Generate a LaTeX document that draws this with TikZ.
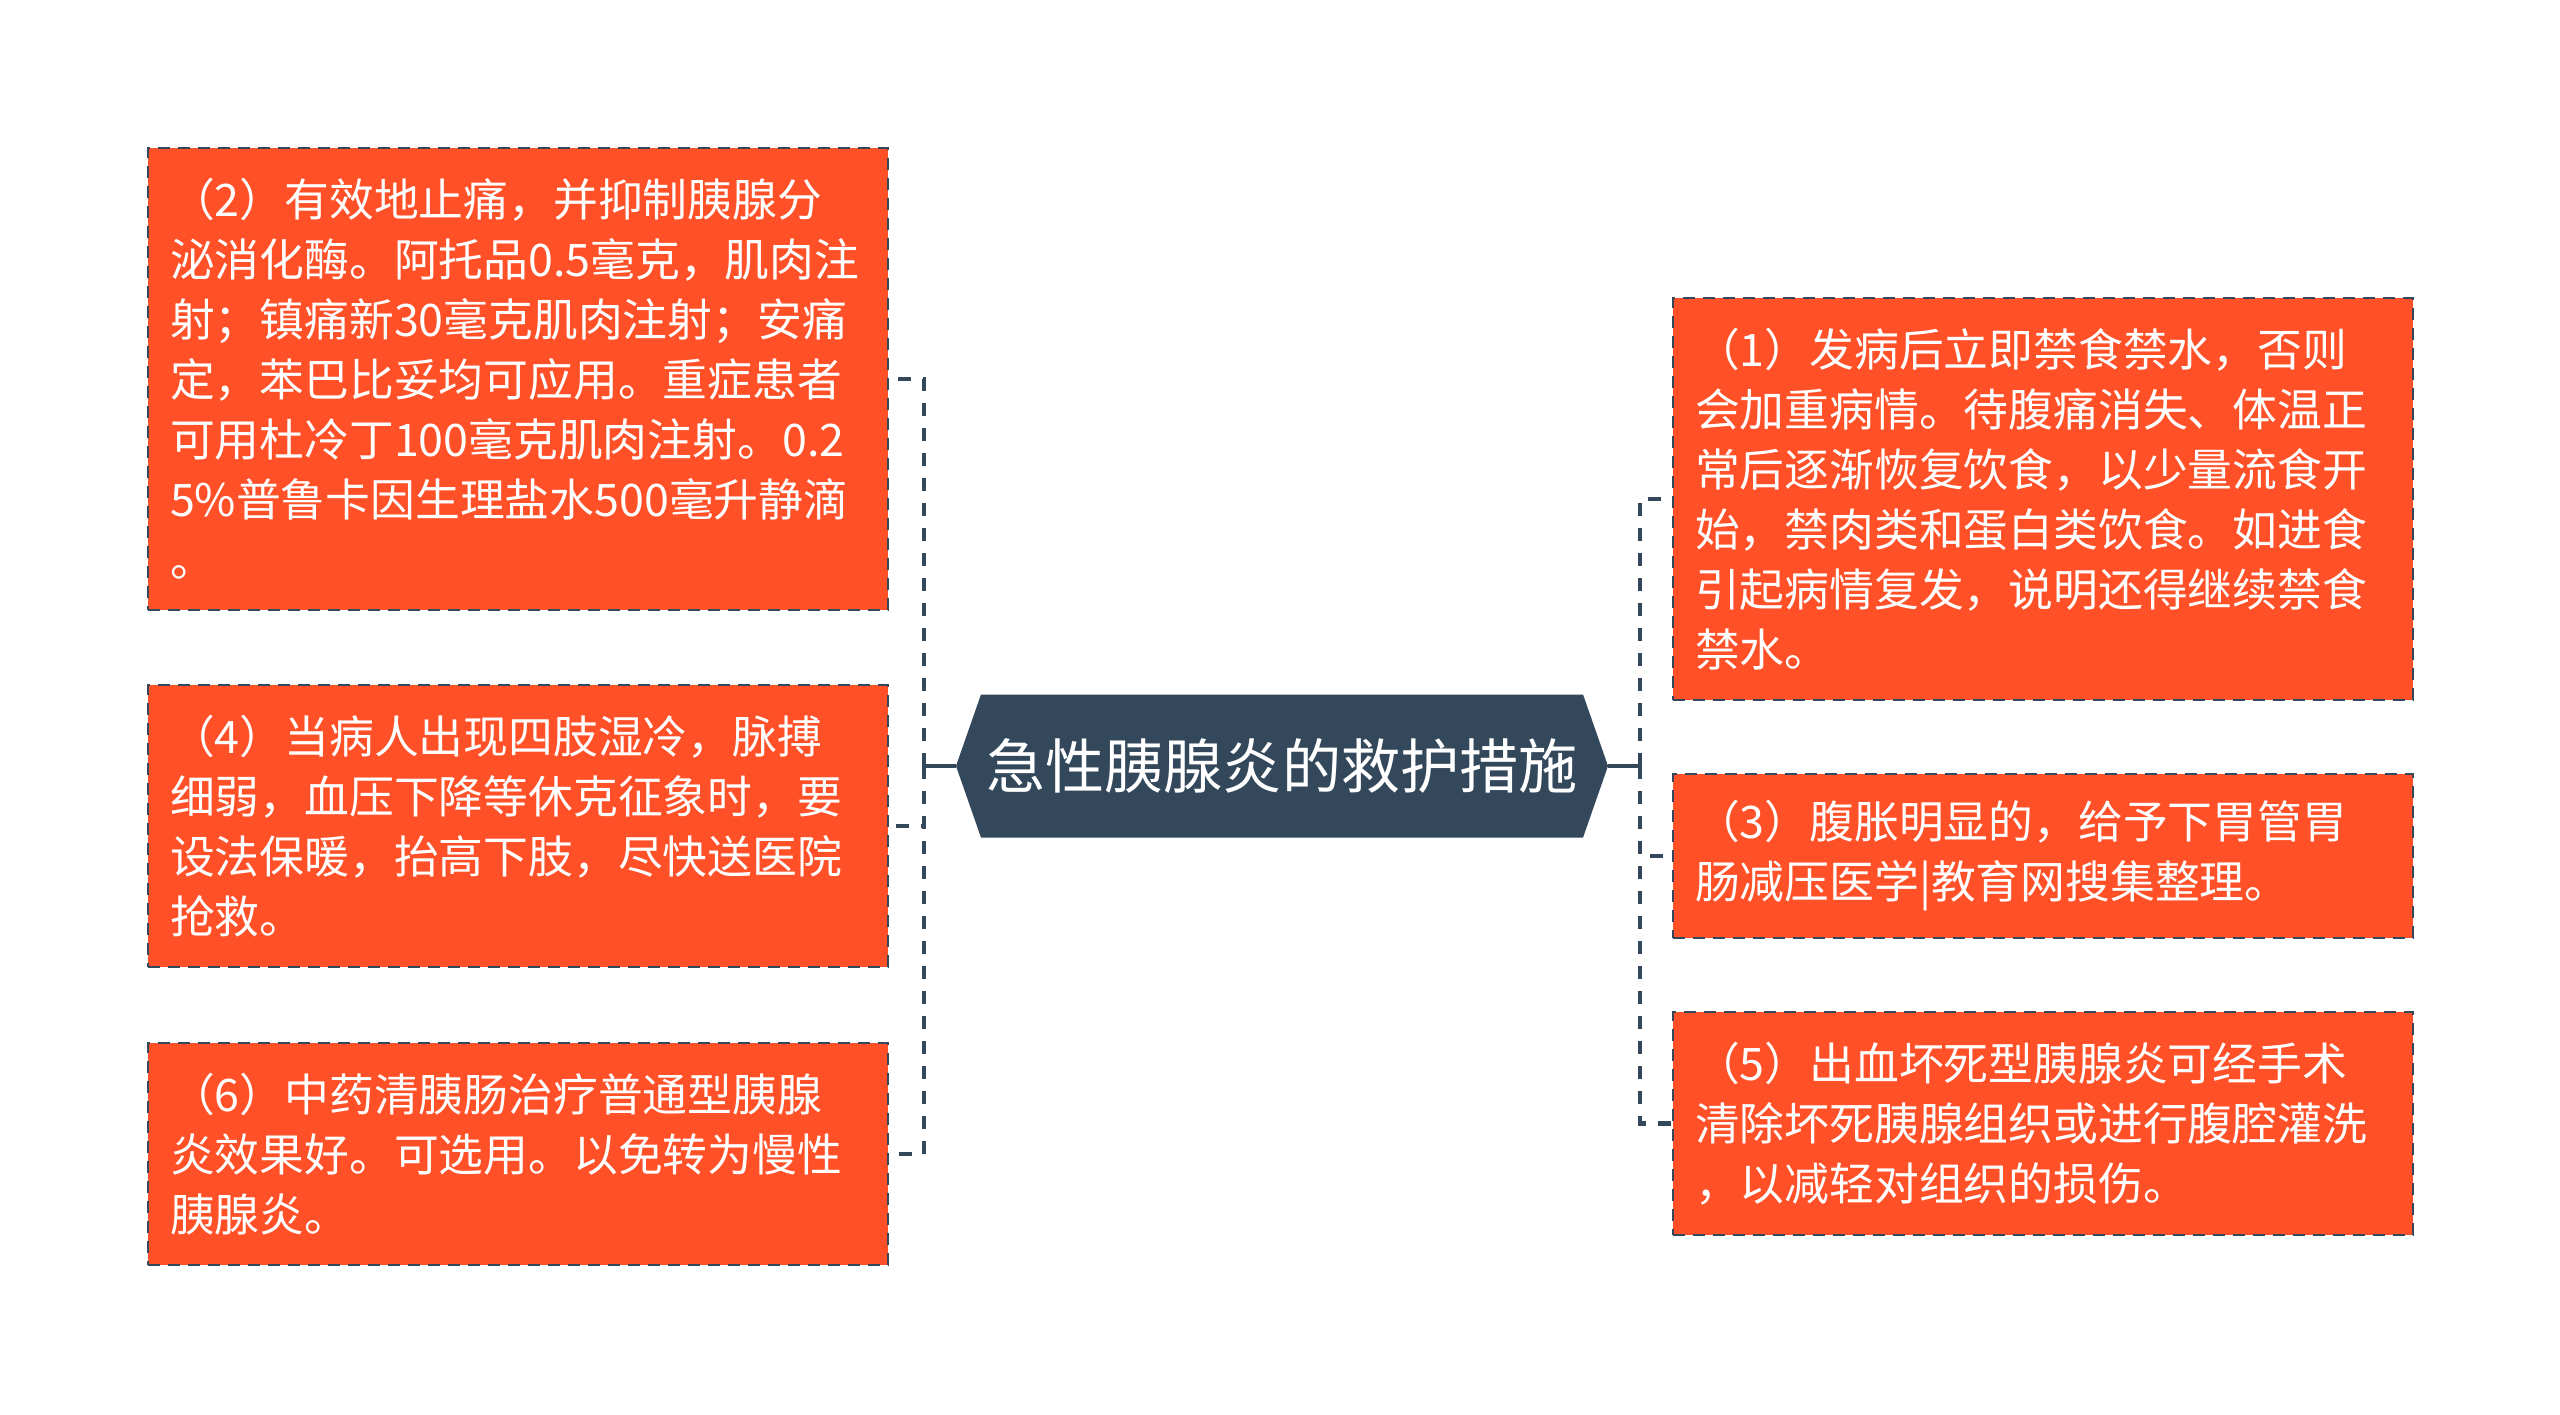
\documentclass[tikz,border=0pt]{standalone}
\usepackage{fontspec}
\setmainfont{Noto Sans CJK SC}
\usepackage{tikz}
\usepackage{xcolor}
\usetikzlibrary{shapes,shapes.symbols,positioning}
\definecolor{tomato}{RGB}{255, 80, 40}
\definecolor{slate}{RGB}{52, 72, 92}
\tikzstyle{link} = [
    line width=2.4pt,
    draw=slate,
    dash pattern=on 6.5pt off 6pt
]
\tikzstyle{stem} = [
    line width=2.4pt,
    draw=slate
]
\tikzstyle{card} = [
    rectangle,
    draw=slate,
    line width=1.2pt,
    dash pattern=on 6pt off 4pt,
    fill=tomato,
    text=white,
    align=left,
    text width=348pt,
    inner xsep=11pt,
    inner ysep=0pt,
    font=\fontsize{22.4}{30}\selectfont
]
\tikzstyle{hub} = [
    signal,
    signal to=west and east,
    signal pointer angle=141.5,
    fill=slate,
    text=white,
    minimum width=326pt,
    minimum height=71.5pt,
    inner sep=0pt,
    font=\fontsize{29.6}{36}\selectfont
]

\begin{document}
\begin{tikzpicture}[x=0.5pt, y=-0.5pt]
    \fill[white] (0,0) rectangle (2560,1414);
    \useasboundingbox (0,0) rectangle (2560,1414);

    \node[hub] (hub) at (1282,766) {急性胰腺炎的救护措施};

    \node[card, minimum height=231pt] (b2) at (518,379) {（2）有效地止痛，并抑制胰腺分\\泌消化酶。阿托品0.5毫克，肌肉注\\射；镇痛新30毫克肌肉注射；安痛\\定，苯巴比妥均可应用。重症患者\\可用杜冷丁100毫克肌肉注射。0.2\\5\%普鲁卡因生理盐水500毫升静滴\\。};
    \node[card, minimum height=141pt] (b4) at (518,826) {（4）当病人出现四肢湿冷，脉搏\\细弱，血压下降等休克征象时，要\\设法保暖，抬高下肢，尽快送医院\\抢救。};
    \node[card, minimum height=111pt] (b6) at (518,1154) {（6）中药清胰肠治疗普通型胰腺\\炎效果好。可选用。以免转为慢性\\胰腺炎。};

    \node[card, minimum height=201pt] (b1) at (2043,499) {（1）发病后立即禁食禁水，否则\\会加重病情。待腹痛消失、体温正\\常后逐渐恢复饮食，以少量流食开\\始，禁肉类和蛋白类饮食。如进食\\引起病情复发，说明还得继续禁食\\禁水。};
    \node[card, minimum height=82pt] (b3) at (2043,856) {（3）腹胀明显的，给予下胃管胃\\肠减压医学|教育网搜集整理。};
    \node[card, minimum height=111.5pt] (b5) at (2043,1123.5) {（5）出血坏死型胰腺炎可经手术\\清除坏死胰腺组织或进行腹腔灌洗\\，以减轻对组织的损伤。};

    \coordinate (lj) at (924,766);
    \coordinate (rj) at (1640,766);
    \draw[stem] (hub.west) -- (lj);
    \draw[stem] (hub.east) -- (rj);
    \foreach \b in {b2,b4,b6}
        \draw[link] (lj) |- (\b.east);
    \foreach \b in {b1,b3,b5}
        \draw[link] (rj) |- (\b.west);
\end{tikzpicture}
\end{document}
